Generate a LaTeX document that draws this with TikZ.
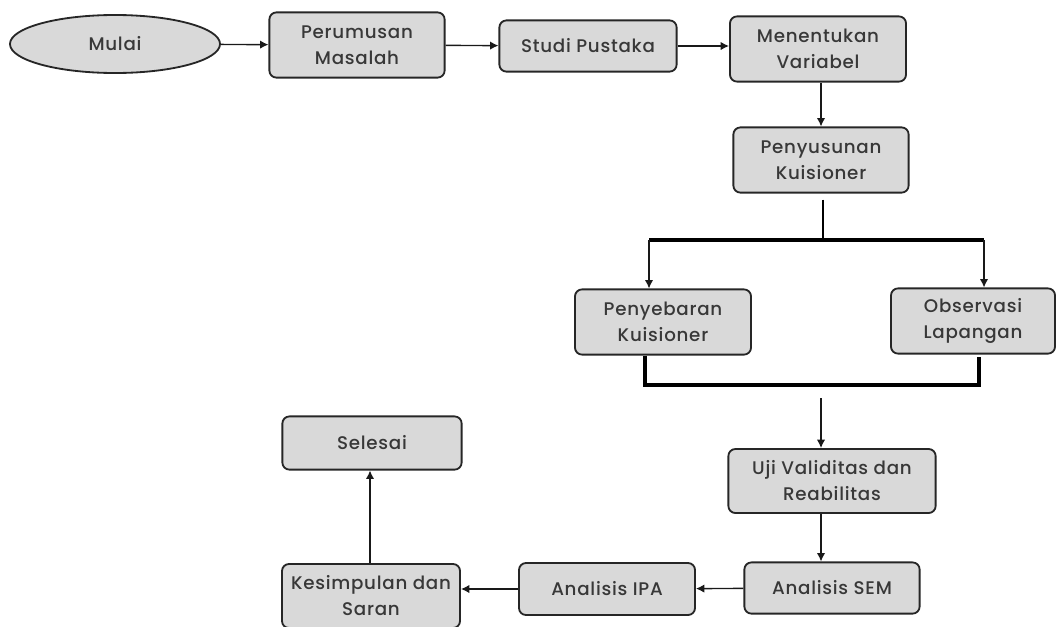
\documentclass[tikz,border=0pt]{standalone}
\usepackage{fontspec}
\setmainfont{Poppins}[UprightFont=* Medium, LetterSpace=4]
\usetikzlibrary{arrows.meta,shapes.geometric}

\begin{document}
\begin{tikzpicture}[x=0.025cm,y=-0.025cm,
    box/.style={draw=black!85, fill=black!15, line width=1.3pt, rounded corners=5pt,
        align=center, inner sep=0pt, text=black!78,
        font=\fontsize{13}{18.5}\selectfont},
    arr/.style={-{Latex[length=6pt,width=6pt]}, line width=1pt, black!90},
    bar/.style={line width=2.6pt, black}]

    \useasboundingbox (0,0) rectangle (1056,626);

    % top row
    \node[box, ellipse, rounded corners=0pt, minimum width=5.25cm, minimum height=1.45cm] (mulai) at (115,44) {Mulai};
    \node[box, minimum width=4.38cm, minimum height=1.63cm] (rumus) at (357,45) {Perumusan\\Masalah};
    \node[box, minimum width=4.43cm, minimum height=1.28cm] (studi) at (588,46) {Studi Pustaka};
    \node[box, minimum width=4.4cm, minimum height=1.63cm] (variabel) at (818,49) {Menentukan\\Variabel};

    \node[box, minimum width=4.38cm, minimum height=1.63cm] (susun) at (821,160) {Penyusunan\\Kuisioner};

    % branches
    \node[box, minimum width=4.4cm, minimum height=1.63cm] (sebar) at (663,322) {Penyebaran\\Kuisioner};
    \node[box, minimum width=4.1cm, minimum height=1.63cm] (observasi) at (973,321) {Observasi\\Lapangan};

    % bottom part
    \node[box, minimum width=5.18cm, minimum height=1.6cm] (uji) at (832,481) {Uji Validitas dan\\Reabilitas};
    \node[box, minimum width=4.38cm, minimum height=1.28cm] (sem) at (832,588) {Analisis SEM};
    \node[box, minimum width=4.4cm, minimum height=1.3cm] (ipa) at (607,589) {Analisis IPA};
    \node[box, minimum width=4.45cm, minimum height=1.6cm] (simpul) at (371,596) {Kesimpulan dan\\Saran};
    \node[box, minimum width=4.48cm, minimum height=1.33cm] (selesai) at (372,443) {Selesai};

    \coordinate (spine) at (821,0);
    \coordinate (splitL) at (649,240);
    \coordinate (splitR) at (984,240);
    \coordinate (joinL) at (645,385);
    \coordinate (joinR) at (979,385);
    \coordinate (joinOut) at (821,398);

    % arrows of the top row
    \draw[arr] (mulai) -- (rumus);
    \draw[arr] (rumus) -- (studi);
    \draw[arr] (studi.east) -- (variabel.west |- studi.east);
    \draw[arr] (variabel.south -| spine) -- (susun.north -| spine);

    % split
    \draw[line width=1pt] ([yshift=-0.15cm]susun.south -| 823,0) -- (823,240);
    \draw[bar] (splitL) -- (splitR);
    \draw[arr] (splitL) -- (sebar.north -| splitL);
    \draw[arr] (splitR) -- (observasi.north -| splitR);

    % join
    \draw[bar] (sebar.south -| joinL) -- (joinL) -- (joinR) -- ([yshift=-0.07cm]observasi.south -| joinR);
    \draw[arr] (joinOut) -- (uji.north -| joinOut);

    % bottom row
    \draw[arr] (uji.south -| spine) -- (sem.north -| spine);
    \draw[arr] (sem) -- (ipa);
    \draw[arr] (ipa.west) -- (simpul.east |- ipa.west);
    \draw[arr] (simpul.north -| 370,0) -- (selesai.south -| 370,0);

\end{tikzpicture}
\end{document}
